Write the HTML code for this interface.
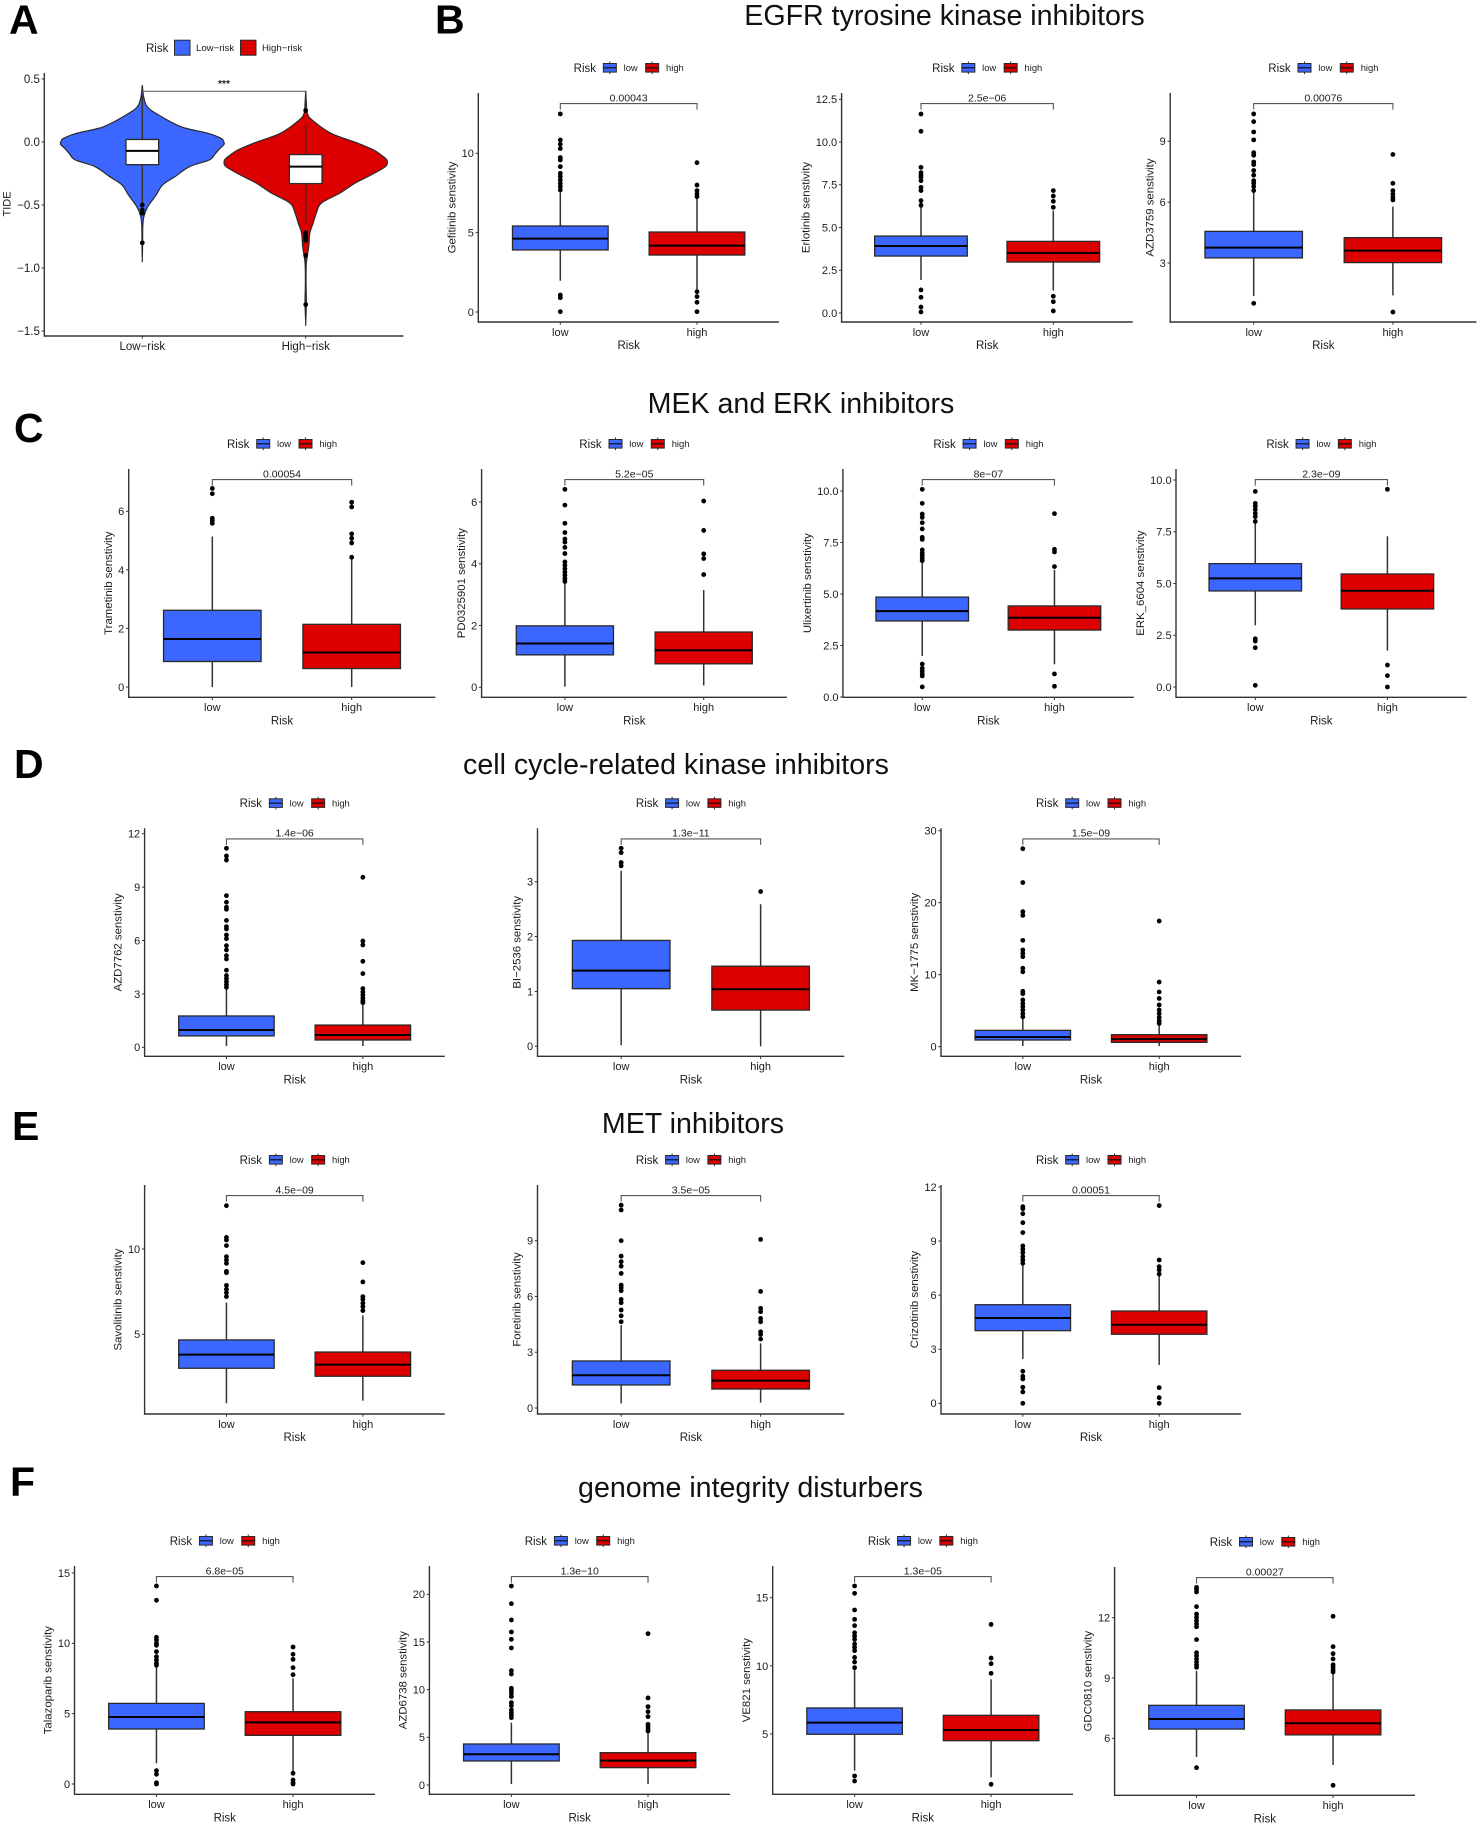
<!DOCTYPE html>
<html lang="en">
<head>
<meta charset="utf-8">
<title>Drug sensitivity by risk group</title>
<style>
html,body{margin:0;padding:0;background:#fff;}
svg{display:block;font-family:"Liberation Sans",Arial,sans-serif;}
text{fill:#1c1c1c;}
.letter{font-weight:bold;font-size:41px;fill:#000;}
.title{font-size:28.6px;text-anchor:middle;fill:#111;}
</style>
</head>
<body>
<svg id="figure" xmlns="http://www.w3.org/2000/svg" width="1480" height="1826" viewBox="0 0 1480 1826">
  <rect x="0" y="0" width="1480" height="1826" fill="#fff"/>
  <text class="letter" x="9" y="33.5">A</text>
  <text class="letter" x="435" y="33.5">B</text>
  <text class="letter" x="14" y="442">C</text>
  <text class="letter" x="14" y="778">D</text>
  <text class="letter" x="12" y="1140">E</text>
  <text class="letter" x="10" y="1496">F</text>
  <text class="title" x="944.5" y="25">EGFR tyrosine kinase inhibitors</text>
  <text class="title" x="801" y="413">MEK and ERK inhibitors</text>
  <text class="title" x="676" y="774">cell cycle-related kinase inhibitors</text>
  <text class="title" x="693" y="1133">MET inhibitors</text>
  <text class="title" x="750.5" y="1497">genome integrity disturbers</text>
</svg>
<script>
// ===== Categories =====
const boxCategories = ['low', 'high'];
const violinCategories = ['Low\u2212risk', 'High\u2212risk'];

// ===== Panel A: TIDE violins =====
const tideTicks = ['0.5', '0.0', '\u22120.5', '\u22121.0', '\u22121.5'];
const tideLowViolinValues = [0.452, 0.36, 0.28, 0.214, 0.12, 0.07, 0.03, 0.005, -0.02, -0.05, -0.095, -0.143, -0.195, -0.275, -0.34, -0.42, -0.51, -0.59, -0.67, -0.80, -0.935];
const tideLowViolinDensity = [0, 0.016, 0.06, 0.2, 0.48, 0.80, 0.96, 0.995, 1, 0.95, 0.89, 0.82, 0.58, 0.40, 0.25, 0.17, 0.07, 0.02, 0.006, 0.004, 0];
const tideHighViolinValues = [0.407, 0.306, 0.227, 0.174, 0.069, -0.01, -0.063, -0.116, -0.14, -0.164, -0.19, -0.222, -0.275, -0.328, -0.407, -0.486, -0.565, -0.645, -0.724, -0.83, -0.962, -1.12, -1.279, -1.437];
const tideHighViolinDensity = [0, 0.008, 0.02, 0.08, 0.31, 0.64, 0.83, 0.95, 0.99, 1, 0.985, 0.91, 0.76, 0.60, 0.416, 0.19, 0.13, 0.09, 0.05, 0.037, 0.008, 0.004, 0.008, 0];
const tideLowStats = [-0.49, -0.18, -0.07, 0.02, 0.37];
const tideLowOutliers = [-0.5, -0.54, -0.565, -0.8];
const tideHighStats = [-0.65, -0.33, -0.195, -0.10, 0.14];
const tideHighOutliers = [0.25, -0.72, -0.74, -0.76, -0.78, -0.90, -1.29];

// ===== Box panels: stats are [whisker-low, q1, median, q3, whisker-high] =====
const gefitinibTicks = ['0', '5', '10'];
const gefitinibLowStats = [1.97, 3.91, 4.62, 5.42, 7.58];
const gefitinibLowOutliers = [12.48, 10.84, 10.57, 10.3, 9.73, 9.58, 9.16, 8.74, 8.53, 8.32, 8.1, 7.9, 7.69, 1.07, 0.9, 0.02];
const gefitinibHighStats = [1.43, 3.59, 4.18, 5.04, 7.16];
const gefitinibHighOutliers = [9.41, 8.0, 7.65, 7.44, 7.27, 1.28, 0.97, 0.61, 0.02];

const erlotinibTicks = ['0.0', '2.5', '5.0', '7.5', '10.0', '12.5'];
const erlotinibLowStats = [1.93, 3.33, 3.92, 4.5, 6.3];
const erlotinibLowOutliers = [11.64, 10.63, 8.52, 8.21, 8.07, 7.94, 7.74, 7.35, 7.16, 6.57, 6.3, 1.35, 0.92, 0.35, 0.06];
const erlotinibHighStats = [1.31, 2.98, 3.51, 4.19, 5.99];
const erlotinibHighOutliers = [7.16, 6.84, 6.53, 6.18, 0.98, 0.66, 0.12];

const azd3759Ticks = ['3', '6', '9'];
const azd3759LowStats = [1.37, 3.25, 3.76, 4.56, 6.6];
const azd3759LowOutliers = [10.35, 9.97, 9.46, 9.07, 8.44, 8.31, 7.98, 7.85, 7.56, 7.33, 7.06, 6.93, 6.77, 6.57, 1.01];
const azd3759HighStats = [1.4, 3.02, 3.61, 4.25, 5.78];
const azd3759HighOutliers = [8.35, 6.93, 6.57, 6.4, 6.24, 6.11, 0.58];

const trametinibTicks = ['0', '2', '4', '6'];
const trametinibLowStats = [0, 0.87, 1.64, 2.62, 5.14];
const trametinibLowOutliers = [6.78, 6.6, 5.76, 5.68, 5.59];
const trametinibHighStats = [0, 0.63, 1.18, 2.14, 4.43];
const trametinibHighOutliers = [6.31, 6.15, 5.23, 5.08, 4.92, 4.43];

const pd0325901Ticks = ['0', '2', '4', '6'];
const pd0325901LowStats = [0.02, 1.05, 1.42, 1.99, 3.37];
const pd0325901LowOutliers = [6.41, 5.9, 5.31, 5.01, 4.8, 4.7, 4.53, 4.33, 4.06, 3.95, 3.84, 3.73, 3.63, 3.52, 3.43];
const pd0325901HighStats = [0.06, 0.76, 1.2, 1.79, 3.15];
const pd0325901HighOutliers = [6.03, 5.08, 4.32, 4.17, 3.65];

const ulixertinibTicks = ['0.0', '2.5', '5.0', '7.5', '10.0'];
const ulixertinibLowStats = [1.99, 3.69, 4.17, 4.85, 6.57];
const ulixertinibLowOutliers = [10.08, 9.4, 8.88, 8.72, 8.46, 8.16, 7.75, 7.65, 7.14, 7.0, 6.88, 6.75, 6.62, 1.6, 1.39, 1.25, 1.12, 1.02, 0.49];
const ulixertinibHighStats = [1.59, 3.25, 3.85, 4.42, 6.17];
const ulixertinibHighOutliers = [8.9, 7.17, 7.04, 6.33, 1.12, 0.52];

const erk6604Ticks = ['0.0', '2.5', '5.0', '7.5', '10.0'];
const erk6604LowStats = [2.98, 4.64, 5.25, 5.96, 7.99];
const erk6604LowOutliers = [9.45, 8.87, 8.74, 8.58, 8.39, 8.23, 8.0, 2.33, 2.22, 1.9, 0.08];
const erk6604HighStats = [1.76, 3.77, 4.65, 5.46, 7.28];
const erk6604HighOutliers = [9.55, 1.06, 0.55, 0];

const azd7762Ticks = ['0', '3', '6', '9', '12'];
const azd7762LowStats = [0.07, 0.64, 0.97, 1.76, 3.31];
const azd7762LowOutliers = [11.18, 10.75, 10.52, 8.52, 8.15, 7.87, 7.75, 7.13, 6.78, 6.65, 6.31, 6.1, 5.71, 5.47, 5.15, 4.96, 4.33, 4.03, 3.86, 3.69, 3.52, 3.37];
const azd7762HighStats = [0.07, 0.41, 0.69, 1.25, 2.43];
const azd7762HighOutliers = [9.55, 5.97, 5.75, 4.83, 4.14, 3.3, 3.11, 2.94, 2.77, 2.62, 2.51];

const bi2536Ticks = ['0', '1', '2', '3'];
const bi2536LowStats = [0.02, 1.05, 1.38, 1.93, 3.2];
const bi2536LowOutliers = [3.61, 3.53, 3.35, 3.29];
const bi2536HighStats = [0, 0.66, 1.04, 1.46, 2.59];
const bi2536HighOutliers = [2.82];

const mk1775Ticks = ['0', '10', '20', '30'];
const mk1775LowStats = [0.09, 0.93, 1.34, 2.27, 3.94];
const mk1775LowOutliers = [27.5, 22.8, 18.75, 18.24, 14.77, 13.43, 12.96, 12.5, 10.9, 10.4, 7.7, 7.36, 6.5, 6.0, 5.55, 5.1, 4.6, 4.15];
const mk1775HighStats = [0.09, 0.6, 1.06, 1.67, 3.24];
const mk1775HighOutliers = [17.45, 8.98, 7.6, 6.7, 5.8, 5.1, 4.6, 4.07, 3.6, 3.24];

const savolitinibTicks = ['5', '10'];
const savolitinibLowStats = [0.96, 3.01, 3.81, 4.67, 6.86];
const savolitinibLowOutliers = [12.54, 10.68, 10.53, 10.2, 9.55, 9.36, 9.16, 8.69, 8.61, 7.87, 7.64, 7.44, 7.21];
const savolitinibHighStats = [1.11, 2.54, 3.22, 3.96, 6.11];
const savolitinibHighOutliers = [9.2, 8.07, 7.21, 7.05, 6.82, 6.62, 6.39];

const foretinibTicks = ['0', '3', '6', '9'];
const foretinibLowStats = [0.25, 1.24, 1.76, 2.53, 4.46];
const foretinibLowOutliers = [10.91, 10.65, 9.0, 8.17, 7.87, 7.63, 7.24, 6.61, 6.47, 6.31, 5.84, 5.66, 5.27, 4.96, 4.64];
const foretinibHighStats = [0.29, 1.02, 1.47, 2.03, 3.48];
const foretinibHighOutliers = [9.07, 6.27, 5.36, 5.18, 4.82, 4.64, 4.1, 3.96, 3.71];

const crizotinibTicks = ['0', '3', '6', '9', '12'];
const crizotinibLowStats = [2.46, 4.03, 4.73, 5.47, 7.67];
const crizotinibLowOutliers = [10.91, 10.8, 10.52, 10.02, 9.47, 8.73, 8.54, 8.36, 8.14, 7.95, 7.77, 1.78, 1.5, 1.35, 0.89, 0.63, 0];
const crizotinibHighStats = [2.13, 3.83, 4.36, 5.12, 7.12];
const crizotinibHighOutliers = [10.97, 7.95, 7.58, 7.4, 7.17, 0.87, 0.31, 0];

const talazoparibTicks = ['0', '5', '10', '15'];
const talazoparibLowStats = [1.47, 3.91, 4.76, 5.73, 8.34];
const talazoparibLowOutliers = [14.08, 13.06, 10.43, 10.24, 10.0, 9.86, 9.41, 9.05, 8.82, 8.58, 8.44, 0.95, 0.69, 0.09, 0];
const talazoparibHighStats = [0.88, 3.46, 4.38, 5.14, 7.51];
const talazoparibHighOutliers = [9.74, 9.22, 8.86, 8.27, 7.77, 0.76, 0.28, 0.09, 0];

const azd6738Ticks = ['0', '5', '10', '15', '20'];
const azd6738LowStats = [0.1, 2.52, 3.22, 4.3, 6.54];
const azd6738LowOutliers = [20.87, 19.02, 17.31, 16.05, 15.28, 14.37, 11.99, 11.64, 10.14, 9.9, 9.62, 9.27, 8.64, 8.32, 7.87, 7.59, 7.34, 7.06];
const azd6738HighStats = [0.1, 1.82, 2.55, 3.39, 5.49];
const azd6738HighOutliers = [15.87, 9.13, 8.22, 7.69, 7.17, 6.36, 6.12, 5.87, 5.66];

const ve821Ticks = ['5', '10', '15'];
const ve821LowStats = [2.31, 4.98, 5.83, 6.91, 9.69];
const ve821LowOutliers = [15.86, 15.32, 14.1, 13.41, 12.95, 12.43, 12.19, 11.94, 11.6, 11.36, 11.11, 10.62, 10.28, 9.87, 1.92, 1.55];
const ve821HighStats = [1.82, 4.51, 5.29, 6.37, 9.01];
const ve821HighOutliers = [13.04, 10.57, 10.16, 9.45, 1.31];

const gdc0810Ticks = ['6', '9', '12'];
const gdc0810LowStats = [5.07, 6.46, 6.96, 7.64, 9.35];
const gdc0810LowOutliers = [13.51, 13.41, 13.28, 12.55, 12.18, 12.02, 11.85, 11.69, 11.55, 10.91, 10.26, 10.11, 9.95, 9.8, 9.65, 9.53, 4.54];
const gdc0810HighStats = [4.67, 6.17, 6.75, 7.41, 9.2];
const gdc0810HighOutliers = [12.07, 10.56, 10.21, 9.95, 9.66, 9.53, 9.4, 9.3, 3.66];

// ===== Panel definitions: frame = [left, right, top, bottom], cal = two value/pixel anchors =====
const boxPanels = [
  {id:'gefitinib', label:'Gefitinib senstivity', p:'0.00043', ticks:gefitinibTicks, low:gefitinibLowStats, lowOut:gefitinibLowOutliers, high:gefitinibHighStats, highOut:gefitinibHighOutliers, frame:[478.3,779,93,322], cal:[0,312,10,153.3]},
  {id:'erlotinib', label:'Erlotinib senstivity', p:'2.5e\u221206', ticks:erlotinibTicks, low:erlotinibLowStats, lowOut:erlotinibLowOutliers, high:erlotinibHighStats, highOut:erlotinibHighOutliers, frame:[841.6,1132.7,93,322], cal:[0,313,12.5,99.3]},
  {id:'azd3759', label:'AZD3759 senstivity', p:'0.00076', ticks:azd3759Ticks, low:azd3759LowStats, lowOut:azd3759LowOutliers, high:azd3759HighStats, highOut:azd3759HighOutliers, frame:[1170.2,1476.4,93,322], cal:[3,263,9,141.3]},
  {id:'trametinib', label:'Trametinib senstivity', p:'0.00054', ticks:trametinibTicks, low:trametinibLowStats, lowOut:trametinibLowOutliers, high:trametinibHighStats, highOut:trametinibHighOutliers, frame:[128.7,435.3,469,697.3], cal:[0,687,6,511.3]},
  {id:'pd0325901', label:'PD0325901 senstivity', p:'5.2e\u221205', ticks:pd0325901Ticks, low:pd0325901LowStats, lowOut:pd0325901LowOutliers, high:pd0325901HighStats, highOut:pd0325901HighOutliers, frame:[481.6,787,469,697.3], cal:[0,687.3,6,502]},
  {id:'ulixertinib', label:'Ulixertinib senstivity', p:'8e\u221207', ticks:ulixertinibTicks, low:ulixertinibLowStats, lowOut:ulixertinibLowOutliers, high:ulixertinibHighStats, highOut:ulixertinibHighOutliers, frame:[842.9,1133.8,469,697.3], cal:[0,697,10,491]},
  {id:'erk6604', label:'ERK_6604 senstivity', p:'2.3e\u221209', ticks:erk6604Ticks, low:erk6604LowStats, lowOut:erk6604LowOutliers, high:erk6604HighStats, highOut:erk6604HighOutliers, frame:[1176,1466.7,469,697.3], cal:[0,687,10,480]},
  {id:'azd7762', label:'AZD7762 senstivity', p:'1.4e\u221206', ticks:azd7762Ticks, low:azd7762LowStats, lowOut:azd7762LowOutliers, high:azd7762HighStats, highOut:azd7762HighOutliers, frame:[144.6,444.7,828.3,1056.3], cal:[0,1047.3,12,833.7]},
  {id:'bi2536', label:'BI\u22122536 senstivity', p:'1.3e\u221211', ticks:bi2536Ticks, low:bi2536LowStats, lowOut:bi2536LowOutliers, high:bi2536HighStats, highOut:bi2536HighOutliers, frame:[537.5,844.3,828.3,1056.3], cal:[0,1046.3,3,881.7]},
  {id:'mk1775', label:'MK\u22121775 senstivity', p:'1.5e\u221209', ticks:mk1775Ticks, low:mk1775LowStats, lowOut:mk1775LowOutliers, high:mk1775HighStats, highOut:mk1775HighOutliers, frame:[941,1241,828.3,1056.3], cal:[0,1046.7,30,830.7]},
  {id:'savolitinib', label:'Savolitinib senstivity', p:'4.5e\u221209', ticks:savolitinibTicks, low:savolitinibLowStats, lowOut:savolitinibLowOutliers, high:savolitinibHighStats, highOut:savolitinibHighOutliers, frame:[144.6,444.7,1185,1414], cal:[5,1334.3,10,1249]},
  {id:'foretinib', label:'Foretinib senstivity', p:'3.5e\u221205', ticks:foretinibTicks, low:foretinibLowStats, lowOut:foretinibLowOutliers, high:foretinibHighStats, highOut:foretinibHighOutliers, frame:[537.5,844.3,1185,1414], cal:[0,1408,9,1240.7]},
  {id:'crizotinib', label:'Crizotinib senstivity', p:'0.00051', ticks:crizotinibTicks, low:crizotinibLowStats, lowOut:crizotinibLowOutliers, high:crizotinibHighStats, highOut:crizotinibHighOutliers, frame:[941,1241,1185,1414], cal:[0,1403.3,12,1187]},
  {id:'talazoparib', label:'Talazoparib senstivity', p:'6.8e\u221205', ticks:talazoparibTicks, low:talazoparibLowStats, lowOut:talazoparibLowOutliers, high:talazoparibHighStats, highOut:talazoparibHighOutliers, frame:[74.5,375,1566,1794.3], cal:[0,1784,15,1573]},
  {id:'azd6738', label:'AZD6738 senstivity', p:'1.3e\u221210', ticks:azd6738Ticks, low:azd6738LowStats, lowOut:azd6738LowOutliers, high:azd6738HighStats, highOut:azd6738HighOutliers, frame:[429.4,730,1566,1794.3], cal:[0,1785,20,1594.3]},
  {id:'ve821', label:'VE821 senstivity', p:'1.3e\u221205', ticks:ve821Ticks, low:ve821LowStats, lowOut:ve821LowOutliers, high:ve821HighStats, highOut:ve821HighOutliers, frame:[772.7,1073,1566,1794.3], cal:[5,1734,15,1597.7]},
  {id:'gdc0810', label:'GDC0810 senstivity', p:'0.00027', ticks:gdc0810Ticks, low:gdc0810LowStats, lowOut:gdc0810LowOutliers, high:gdc0810HighStats, highOut:gdc0810HighOutliers, frame:[1114.6,1415,1567,1795.3], cal:[6,1738.3,12,1617.7]}
];

const BLUE = '#3b66ff', RED = '#dc0000', INK = '#2a2a2a';
const svg = document.getElementById('figure');
const NS = 'http://www.w3.org/2000/svg';

function node(parent, tag, attrs, content) {
  const el = document.createElementNS(NS, tag);
  for (const k in attrs) el.setAttribute(k, attrs[k]);
  if (content !== undefined) el.textContent = content;
  parent.appendChild(el);
  return el;
}
function makeYScale(cal) {
  const perUnit = (cal[3] - cal[1]) / (cal[2] - cal[0]);
  return function (v) { return cal[1] + (v - cal[0]) * perUnit; };
}
function tickValue(label) { return parseFloat(label.replace('\u2212', '-')); }
function makeXScale(frame) {
  const gap = (frame[1] - frame[0]) / 2.2;
  return { gap: gap, at: function (i) { return frame[0] + gap * (0.6 + i); } };
}

function drawAxes(g, id, frame, x, y, tickLabels, cats, fontSize) {
  const axisY = node(g, 'line', {x1:frame[0], x2:frame[0], y1:frame[2], y2:frame[3] + 0.7, stroke:'#333', 'stroke-width':1.4});
  
  
  const axisX = node(g, 'line', {x1:frame[0], x2:frame[1], y1:frame[3], y2:frame[3], stroke:'#333', 'stroke-width':1.4});
  
  
  tickLabels.forEach(function (label) {
    const py = y(tickValue(label));
    const mark = node(g, 'line', {x1:frame[0] - 2.7, x2:frame[0], y1:py, y2:py, stroke:'#333', 'stroke-width':1});
    
    
    const txt = node(g, 'text', {x:frame[0] - 4.4, y:py + 3.9, 'text-anchor':'end', 'font-size':fontSize}, label);
    
    
  });
  cats.forEach(function (cat, i) {
    const px = x.at(i);
    const mark = node(g, 'line', {x1:px, x2:px, y1:frame[3], y2:frame[3] + 2.7, stroke:'#333', 'stroke-width':1});
    
    
    const txt = node(g, 'text', {x:px, y:frame[3] + 13.8, 'text-anchor':'middle', 'font-size':fontSize}, cat);
    
    
  });
}

function drawBox(g, id, cx, half, y, stats, outliers, fill, whiskerWidth) {
  const lowerWhisker = node(g, 'line', {x1:cx, x2:cx, y1:y(stats[1]), y2:y(stats[0]), stroke:'#333', 'stroke-width':whiskerWidth});
  
  
  const upperWhisker = node(g, 'line', {x1:cx, x2:cx, y1:y(stats[3]), y2:y(stats[4]), stroke:'#333', 'stroke-width':whiskerWidth});
  
  
  const box = node(g, 'rect', {x:cx - half, width:half * 2, y:y(stats[3]), height:y(stats[1]) - y(stats[3]), fill:fill, stroke:INK, 'stroke-width':1.3});
  
  
  const median = node(g, 'line', {x1:cx - half, x2:cx + half, y1:y(stats[2]), y2:y(stats[2]), stroke:'#000', 'stroke-width':2});
  
  
  outliers.forEach(function (v) {
    const dot = node(g, 'circle', {cx:cx, cy:y(v), r:2.4, fill:'#000'});
    
    
  });
}

function drawBoxLegend(g, id, cx, cy) {
  const title = node(g, 'text', {x:cx - 55, y:cy + 4, 'font-size':11.5}, 'Risk');
  
  
  [[cx - 25.3, BLUE, cx - 5, 'low'], [cx + 17, RED, cx + 37.4, 'high']].forEach(function (item) {
    const key = node(g, 'g', {});
    
    
    node(key, 'line', {x1:item[0] + 6.5, x2:item[0] + 6.5, y1:cy - 6.3, y2:cy + 6.3, stroke:INK, 'stroke-width':1});
    node(key, 'rect', {x:item[0], y:cy - 4.3, width:13, height:8.6, fill:item[1], stroke:INK, 'stroke-width':1});
    node(key, 'line', {x1:item[0], x2:item[0] + 13, y1:cy, y2:cy, stroke:'#111', 'stroke-width':1.2});
    const lab = node(g, 'text', {x:item[2], y:cy + 3.4, 'font-size':9.4}, item[3]);
    
    
  });
}

boxPanels.forEach(function (p) {
  const frame = p.frame;
  const g = node(svg, 'g', {});
  
  
  const x = makeXScale(frame);
  const y = makeYScale(p.cal);
  const half = x.gap * 0.35;
  const midX = (frame[0] + frame[1]) / 2;
  const midY = (frame[2] + frame[3]) / 2;

  drawBoxLegend(g, p.id, midX, frame[2] - 25.2);
  drawAxes(g, p.id, frame, x, y, p.ticks, boxCategories, 11);
  drawBox(g, p.id + '-low', x.at(0), half, y, p.low, p.lowOut, BLUE, 1.5);
  drawBox(g, p.id + '-high', x.at(1), half, y, p.high, p.highOut, RED, 1.5);

  const by = frame[2] + 10.6;
  const bracket = node(g, 'path', {d:'M' + x.at(0) + ' ' + (by + 6) + 'V' + by + 'H' + x.at(1) + 'V' + (by + 6), fill:'none', stroke:'#555', 'stroke-width':1.1});
  
  
  const pText = node(g, 'text', {x:(x.at(0) + x.at(1)) / 2, y:by - 2.3, 'text-anchor':'middle', 'font-size':10.5}, p.p);
  
  

  const longest = Math.max.apply(null, p.ticks.map(function (t) {
    return t.replace('.', '').length * 6.12 + (t.indexOf('.') >= 0 ? 3.06 : 0);
  }));
  const tx = frame[0] - 13.7 - longest;
  const yTitle = node(g, 'text', {x:tx, y:midY, 'text-anchor':'middle', 'font-size':11.4, 'dominant-baseline':'central', transform:'rotate(-90 ' + tx + ' ' + midY + ')'}, p.label);
  
  
  const xTitle = node(g, 'text', {x:midX, y:frame[3] + 27, 'text-anchor':'middle', 'font-size':11.5}, 'Risk');
  
  
});

// ===== Panel A drawing =====
function violinPath(cx, y, values, density, maxHalf) {
  const right = values.map(function (v, i) { return [cx + density[i] * maxHalf, y(v)]; });
  const left = values.map(function (v, i) { return [cx - density[i] * maxHalf, y(v)]; }).reverse();
  const pts = right.concat(left);
  let d = 'M' + pts[0][0].toFixed(2) + ' ' + pts[0][1].toFixed(2);
  for (let i = 0; i < pts.length - 1; i++) {
    const p0 = pts[Math.max(0, i - 1)], p1 = pts[i], p2 = pts[i + 1], p3 = pts[Math.min(pts.length - 1, i + 2)];
    const c1x = p1[0] + (p2[0] - p0[0]) / 6, c1y = p1[1] + (p2[1] - p0[1]) / 6;
    const c2x = p2[0] - (p3[0] - p1[0]) / 6, c2y = p2[1] - (p3[1] - p1[1]) / 6;
    d += 'C' + c1x.toFixed(2) + ' ' + c1y.toFixed(2) + ' ' + c2x.toFixed(2) + ' ' + c2y.toFixed(2) + ' ' + p2[0].toFixed(2) + ' ' + p2[1].toFixed(2);
  }
  return d + 'Z';
}

(function drawTide() {
  const frame = [44.3, 403.3, 73, 336];
  const g = node(svg, 'g', {});
  
  
  const x = { gap: 163.4, at: function (i) { return 142.3 + 163.4 * i; } };
  const y = makeYScale([0, 142, -1, 268]);
  const maxHalf = x.gap * 0.5;

  drawAxes(g, 'tide', frame, x, y, tideTicks, violinCategories, 11.5);

  const violinLow = node(g, 'path', {d:violinPath(x.at(0), y, tideLowViolinValues, tideLowViolinDensity, maxHalf), fill:BLUE, stroke:INK, 'stroke-width':1.2});
  
  
  const violinHigh = node(g, 'path', {d:violinPath(x.at(1), y, tideHighViolinValues, tideHighViolinDensity, maxHalf), fill:RED, stroke:INK, 'stroke-width':1.2});
  
  

  drawBox(g, 'tide-low-risk', x.at(0), x.gap * 0.1, y, tideLowStats, tideLowOutliers, '#fff', 1.5);
  drawBox(g, 'tide-high-risk', x.at(1), x.gap * 0.1, y, tideHighStats, tideHighOutliers, '#fff', 1.5);

  const bracket = node(g, 'line', {x1:x.at(0), x2:x.at(1), y1:91.3, y2:91.3, stroke:'#555', 'stroke-width':1});
  
  
  const stars = node(g, 'text', {x:(x.at(0) + x.at(1)) / 2, y:87, 'text-anchor':'middle', 'font-size':10, 'font-weight':'bold'}, '***');
  
  

  const yTitle = node(g, 'text', {x:7.3, y:204, 'text-anchor':'middle', 'font-size':11, 'dominant-baseline':'central', transform:'rotate(-90 7.3 204)'}, 'TIDE');
  
  

  const legendTitle = node(g, 'text', {x:146, y:51.8, 'font-size':11.5}, 'Risk');
  
  
  [[174.5, BLUE, 196, violinCategories[0]], [240.5, RED, 262, violinCategories[1]]].forEach(function (item) {
    const key = node(g, 'rect', {x:item[0], y:40.2, width:15.5, height:15, fill:item[1], stroke:INK, 'stroke-width':1});
    
    
    const lab = node(g, 'text', {x:item[2], y:51.2, 'font-size':9.6}, item[3]);
    
    
  });
})();
</script>
</body>
</html>
